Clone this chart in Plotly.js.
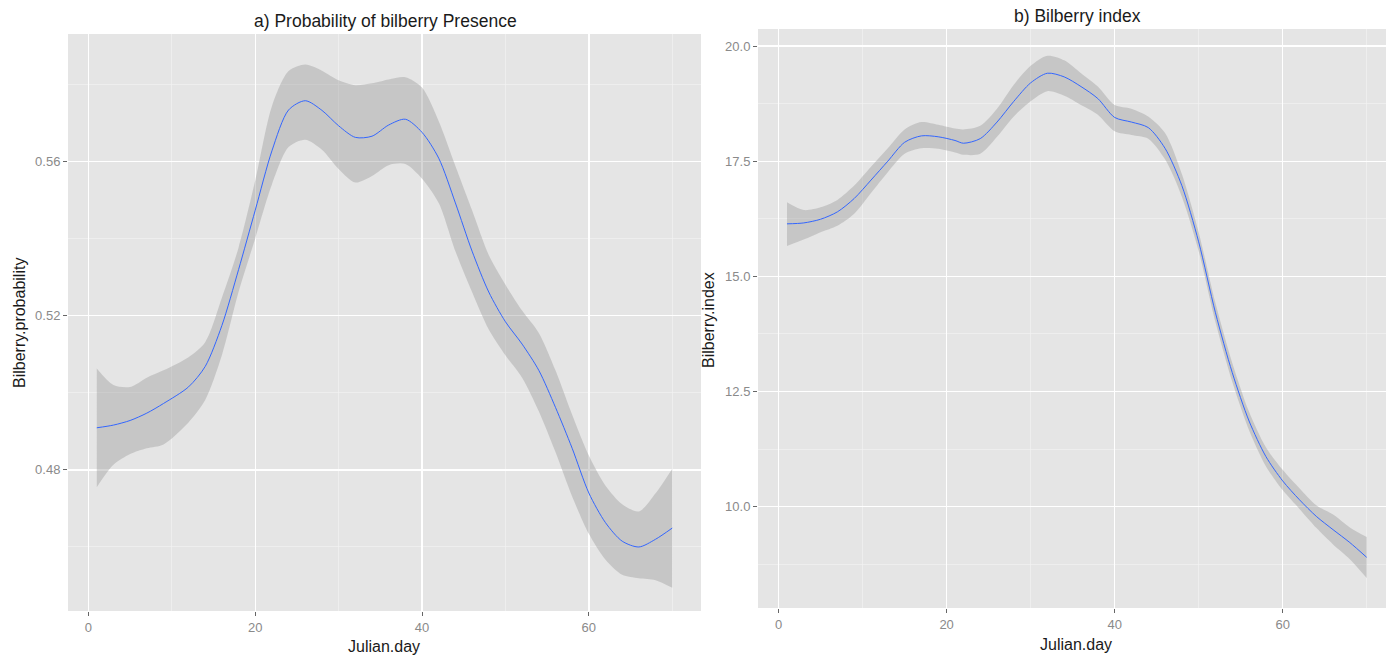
<!DOCTYPE html>
<html>
<head>
<meta charset="utf-8">
<script src="https://cdn.plot.ly/plotly-3.0.1.min.js"></script>
<style>
html,body{margin:0;padding:0;background:#fff;}
#chart{width:1386px;height:655px;}
</style>
</head>
<body>
<div id="chart"></div>
<script>
// ---- Panel a) Probability of bilberry presence ----
const dayA = [1,3,5,7,9,12,14,16,18,20,22,24,26,28,30,32,34,36,38,40,42,44,46,48,50,52,54,56,58,60,62,64,66,68,70];
const probFit = [0.4909,0.4916,0.4928,0.4947,0.4972,0.5015,0.5068,0.5174,0.5319,0.5473,0.5627,0.5733,0.5757,0.5732,0.5692,0.5662,0.5665,0.5694,0.5709,0.5675,0.5608,0.5492,0.5367,0.5261,0.5184,0.5126,0.5058,0.4962,0.4856,0.4740,0.4663,0.4615,0.4600,0.4620,0.4649];
const probLow = [0.4755,0.4813,0.4841,0.4856,0.4866,0.4923,0.4981,0.5097,0.5261,0.5400,0.5540,0.5637,0.5656,0.5630,0.5580,0.5545,0.5562,0.5590,0.5593,0.5555,0.5492,0.5367,0.5261,0.5164,0.5097,0.5039,0.4952,0.4846,0.4731,0.4634,0.4567,0.4528,0.4519,0.4514,0.4494];
const probHigh = [0.5063,0.5020,0.5015,0.5039,0.5058,0.5092,0.5131,0.5246,0.5376,0.5550,0.5743,0.5834,0.5851,0.5835,0.5810,0.5797,0.5802,0.5812,0.5818,0.5791,0.5704,0.5588,0.5473,0.5357,0.5280,0.5213,0.5155,0.5058,0.4943,0.4837,0.4759,0.4711,0.4692,0.4739,0.4803];

// ---- Panel b) Bilberry index ----
const dayB = [1,3,5,7,9,11,13,15,17,19,21,22,24,26,28,30,32,34,36,38,40,42,44,46,48,50,52,54,56,58,60,62,64,66,68,70];
const idxFit = [16.14,16.16,16.24,16.40,16.69,17.09,17.50,17.91,18.05,18.03,17.95,17.89,17.99,18.35,18.80,19.20,19.41,19.33,19.12,18.86,18.45,18.35,18.23,17.78,16.97,15.75,14.21,12.91,11.86,11.09,10.56,10.15,9.79,9.50,9.22,8.90];
const idxLow = [15.66,15.80,15.96,16.10,16.36,16.81,17.26,17.66,17.78,17.77,17.69,17.64,17.66,18.03,18.47,18.80,19.02,18.92,18.72,18.51,18.15,18.07,17.99,17.54,16.73,15.55,14.01,12.71,11.66,10.88,10.36,9.95,9.54,9.18,8.86,8.45];
const idxHigh = [16.61,16.44,16.50,16.66,16.97,17.38,17.78,18.19,18.35,18.29,18.21,18.19,18.27,18.64,19.16,19.57,19.79,19.69,19.41,19.12,18.72,18.64,18.47,18.11,17.22,15.96,14.42,13.12,12.06,11.29,10.80,10.40,10.03,9.83,9.55,9.34];

// ---- tick labels ----
const xTicks = [0,20,40,60];
const xTickText = ['0','20','40','60'];
const yTicksA = [0.48,0.52,0.56];
const yTickTextA = ['0.48','0.52','0.56'];
const yTicksB = [10,12.5,15,17.5,20];
const yTickTextB = ['10.0','12.5','15.0','17.5','20.0'];

const W = 1386, H = 655;
const px = v => v / W;
const py = v => 1 - v / H;

const ribbonFill = 'rgba(153,153,153,0.4)';
const lineColor = '#3366FF';
const FONT = 'Liberation Sans, Arial, sans-serif';

function lowerEdge(x, lo, xa, ya) {
  return {
    x: x, y: lo, xaxis: xa, yaxis: ya,
    type: 'scatter', mode: 'lines',
    line: {width: 0, color: 'rgba(0,0,0,0)', shape: 'spline', smoothing: 0.8},
    hoverinfo: 'skip', showlegend: false
  };
}
function upperEdge(x, hi, xa, ya) {
  return {
    x: x, y: hi, xaxis: xa, yaxis: ya,
    type: 'scatter', mode: 'lines',
    line: {width: 0, color: 'rgba(0,0,0,0)', shape: 'spline', smoothing: 0.8},
    fill: 'tonexty', fillcolor: ribbonFill,
    hoverinfo: 'skip', showlegend: false
  };
}
function fit(x, y, xa, ya) {
  return {
    x: x, y: y, xaxis: xa, yaxis: ya,
    type: 'scatter', mode: 'lines',
    line: {color: lineColor, width: 1, shape: 'spline', smoothing: 0.8},
    showlegend: false
  };
}

const data = [
  lowerEdge(dayA, probLow, 'x', 'y'),
  upperEdge(dayA, probHigh, 'x', 'y'),
  fit(dayA, probFit, 'x', 'y'),
  lowerEdge(dayB, idxLow, 'x2', 'y2'),
  upperEdge(dayB, idxHigh, 'x2', 'y2'),
  fit(dayB, idxFit, 'x2', 'y2')
];

const tickFont = {family: FONT, size: 13, color: '#8a8a8a'};
const baseAxis = {
  showline: false, zeroline: false,
  ticks: 'outside', ticklen: 4, tickwidth: 1, tickcolor: '#666666',
  showgrid: true, gridcolor: '#FFFFFF', gridwidth: 1.4,
  tickfont: tickFont, fixedrange: true
};

const layout = {
  width: W, height: H,
  margin: {l: 0, r: 0, t: 0, b: 0},
  paper_bgcolor: '#FFFFFF',
  plot_bgcolor: '#E5E5E5',
  showlegend: false,
  xaxis: Object.assign({}, baseAxis, {
    domain: [px(68), px(701)], range: [-2.45, 73.45],
    tickmode: 'array', tickvals: xTicks, ticktext: xTickText,
    minor: {tickvals: [10,30,50,70], showgrid: true, gridcolor: '#F2F2F2', gridwidth: 0.7},
    anchor: 'y'
  }),
  yaxis: Object.assign({}, baseAxis, {
    domain: [py(611), py(34)], range: [0.4434, 0.593],
    tickmode: 'array', tickvals: yTicksA, ticktext: yTickTextA,
    minor: {tickvals: [0.46,0.50,0.54,0.58], showgrid: true, gridcolor: '#F2F2F2', gridwidth: 0.7},
    anchor: 'x'
  }),
  xaxis2: Object.assign({}, baseAxis, {
    domain: [px(758), 1], range: [-2.45, 72.3],
    tickmode: 'array', tickvals: xTicks, ticktext: xTickText,
    minor: {tickvals: [10,30,50,70], showgrid: true, gridcolor: '#F2F2F2', gridwidth: 0.7},
    anchor: 'y2'
  }),
  yaxis2: Object.assign({}, baseAxis, {
    domain: [py(608), py(29)], range: [7.80, 20.37],
    tickmode: 'array', tickvals: yTicksB, ticktext: yTickTextB,
    minor: {tickvals: [8.75,11.25,13.75,16.25,18.75], showgrid: true, gridcolor: '#F2F2F2', gridwidth: 0.7},
    anchor: 'x2'
  }),
  annotations: [
    {text: 'a) Probability of bilberry Presence', xref: 'paper', yref: 'paper', x: px(385), y: py(21), xanchor: 'center', yanchor: 'middle', showarrow: false, font: {family: FONT, size: 17.5, color: '#1a1a1a'}},
    {text: 'b) Bilberry index', xref: 'paper', yref: 'paper', x: px(1077), y: py(16), xanchor: 'center', yanchor: 'middle', showarrow: false, font: {family: FONT, size: 17.5, color: '#1a1a1a'}},
    {text: 'Julian.day', xref: 'paper', yref: 'paper', x: px(384), y: py(646), xanchor: 'center', yanchor: 'middle', showarrow: false, font: {family: FONT, size: 16, color: '#1a1a1a'}},
    {text: 'Julian.day', xref: 'paper', yref: 'paper', x: px(1076), y: py(644), xanchor: 'center', yanchor: 'middle', showarrow: false, font: {family: FONT, size: 16, color: '#1a1a1a'}},
    {text: 'Bilberry.probability', xref: 'paper', yref: 'paper', x: px(19), y: py(323), xanchor: 'center', yanchor: 'middle', textangle: -90, showarrow: false, font: {family: FONT, size: 16, color: '#1a1a1a'}},
    {text: 'Bilberry.index', xref: 'paper', yref: 'paper', x: px(709), y: py(320), xanchor: 'center', yanchor: 'middle', textangle: -90, showarrow: false, font: {family: FONT, size: 16, color: '#1a1a1a'}}
  ]
};

Plotly.newPlot('chart', data, layout, {displayModeBar: false, staticPlot: true});
</script>
</body>
</html>
